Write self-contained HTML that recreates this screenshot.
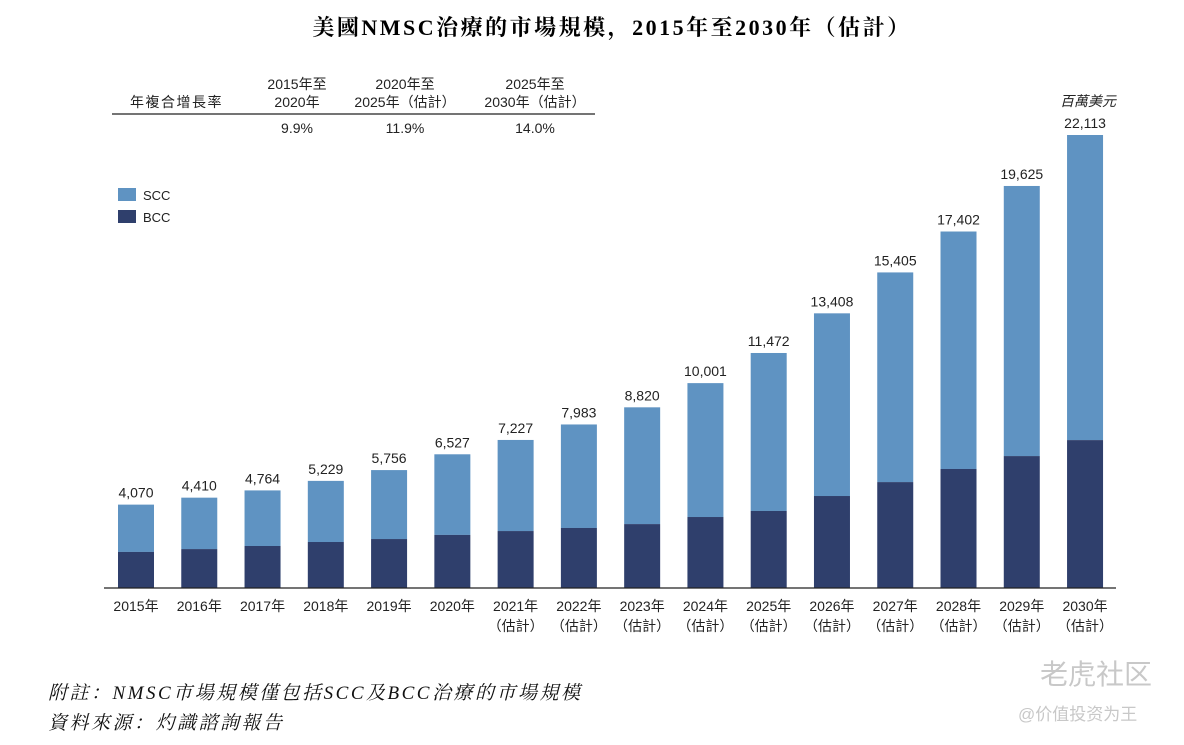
<!DOCTYPE html>
<html><head><meta charset="utf-8">
<style>
body{margin:0;background:#fff;width:1184px;height:740px;overflow:hidden;font-family:"Liberation Sans","Noto Sans CJK TC",sans-serif;}
svg text{font-family:"Liberation Sans","Noto Sans CJK TC",sans-serif;}
</style></head><body>
<svg width="1184" height="740">
<text x="612" y="35" text-anchor="middle" font-size="22" font-weight="bold" letter-spacing="2.5" style="font-family:'Liberation Serif','Noto Serif CJK SC',serif">美國NMSC治療的市場規模，2015年至2030年（估計）</text>
<g font-size="14" fill="#222">
<text x="130" y="107" letter-spacing="1.5">年複合增長率</text>
<text x="297" y="89" text-anchor="middle">2015年至</text>
<text x="297" y="107" text-anchor="middle">2020年</text>
<text x="405" y="89" text-anchor="middle">2020年至</text>
<text x="405" y="107" text-anchor="middle">2025年（估計）</text>
<text x="535" y="89" text-anchor="middle">2025年至</text>
<text x="535" y="107" text-anchor="middle">2030年（估計）</text>
<line x1="112" y1="114" x2="595" y2="114" stroke="#222" stroke-width="1.2"/>
<text x="297" y="133" text-anchor="middle">9.9%</text>
<text x="405" y="133" text-anchor="middle">11.9%</text>
<text x="535" y="133" text-anchor="middle">14.0%</text>
</g>
<g font-size="13" fill="#222">
<rect x="118" y="188" width="18" height="13" fill="#5f93c2"/>
<text x="143" y="200">SCC</text>
<rect x="118" y="210" width="18" height="13" fill="#2f3f6c"/>
<text x="143" y="222">BCC</text>
</g>
<text x="1088" y="106" text-anchor="middle" font-size="14" font-style="italic" fill="#222">百萬美元</text>
<g id="bars"></g>
<line x1="104" y1="588" x2="1116" y2="588" stroke="#222" stroke-width="1.2"/>
<text x="48" y="699" font-size="19" font-style="italic" letter-spacing="2.5" style="font-family:'Liberation Serif','Noto Serif CJK SC',serif" fill="#111">附註：NMSC市場規模僅包括SCC及BCC治療的市場規模</text>
<text x="48" y="729" font-size="19" font-style="italic" letter-spacing="2.5" style="font-family:'Liberation Serif','Noto Serif CJK SC',serif" fill="#111">資料來源：灼識諮詢報告</text>
<text x="1040" y="684" font-size="28" fill="#c8c8c8">老虎社区</text>
<text x="1018" y="720" font-size="17" fill="#c8c8c8">@价值投资为王</text>
</svg>
<script>
const years=["2015年","2016年","2017年","2018年","2019年","2020年","2021年","2022年","2023年","2024年","2025年","2026年","2027年","2028年","2029年","2030年"];
const estimated=[false,false,false,false,false,false,true,true,true,true,true,true,true,true,true,true];
const totals=[4070,4410,4764,5229,5756,6527,7227,7983,8820,10001,11472,13408,15405,17402,19625,22113];
const bcc=[1760,1900,2050,2245,2390,2590,2780,2930,3120,3465,3760,4490,5170,5810,6440,7220];
const ns="http://www.w3.org/2000/svg";
const g=document.getElementById('bars');
const base=588, k=(588-135)/22113, x0=118, step=63.27, bw=36;
function y(v){return base-v*k;}
function mk(t,a){const e=document.createElementNS(ns,t);for(const n in a)e.setAttribute(n,a[n]);g.appendChild(e);return e;}
years.forEach((yr,i)=>{
 const x=x0+i*step;
 const s=mk('rect',{x:x,y:y(totals[i]),width:bw,height:(totals[i]-bcc[i])*k,fill:'#5f93c2'});
 
 
 const b=mk('rect',{x:x,y:y(bcc[i]),width:bw,height:bcc[i]*k,fill:'#2f3f6c'});
 
 
 const t=mk('text',{x:x+bw/2,y:y(totals[i])-7,'text-anchor':'middle','font-size':14,fill:'#222'});
 t.textContent=totals[i].toLocaleString('en-US');
 
 
 const l=mk('text',{x:x+bw/2,y:611,'text-anchor':'middle','font-size':14,fill:'#222'});
 l.textContent=yr;
 
 
 if(estimated[i]){
  const e=mk('text',{x:x+bw/2,y:631,'text-anchor':'middle','font-size':14,fill:'#222'});
  e.textContent='（估計）';
  
  
 }
});
</script>
</body></html>
